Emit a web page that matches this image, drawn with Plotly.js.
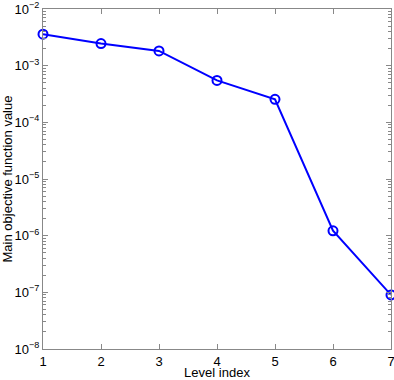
<!DOCTYPE html>
<html><head><meta charset="utf-8">
<script src="https://cdn.plot.ly/plotly-3.0.1.min.js"></script>
<style>html,body{margin:0;padding:0;background:#fff;overflow:hidden;}#chart{width:394px;height:380px;}</style>
</head><body><div id="chart"></div>
<script>
const levels = [1, 2, 3, 4, 5, 6, 7];
const objectiveValues = [3.6e-3, 2.45e-3, 1.82e-3, 5.5e-4, 2.55e-4, 1.22e-6, 9.0e-8];
const yTickVals = [1e-8, 1e-7, 1e-6, 1e-5, 1e-4, 1e-3, 1e-2];
const yTickText = ['10<sup>−8</sup>','10<sup>−7</sup>','10<sup>−6</sup>','10<sup>−5</sup>','10<sup>−4</sup>','10<sup>−3</sup>','10<sup>−2</sup>'];
const xTickVals = [1, 2, 3, 4, 5, 6, 7];
const yMinorVals = [];
for (let e = -8; e < -2; e++) for (let d = 2; d <= 9; d++) yMinorVals.push(d * Math.pow(10, e));

const axisCol = '#888888';
const fnt = {family: 'Liberation Sans, Arial, sans-serif', size: 13, color: '#000'};

Plotly.newPlot('chart', [{
  x: levels, y: objectiveValues, type: 'scatter', mode: 'lines+markers',
  line: {color: '#0000ff', width: 2},
  marker: {symbol: 'circle-open', size: 9, color: '#0000ff', line: {width: 2, color: '#0000ff'}},
  cliponaxis: false
}], {
  width: 394, height: 380,
  margin: {l: 43, r: 3, t: 9, b: 31},
  paper_bgcolor: '#fff', plot_bgcolor: '#fff',
  showlegend: false,
  font: fnt,
  xaxis: {
    range: [1, 7], tickvals: xTickVals, ticks: 'inside', ticklen: 5, tickcolor: axisCol,
    showline: true, linecolor: axisCol, linewidth: 1, mirror: 'ticks', showgrid: false, zeroline: false,
    ticklabeloverflow: 'allow',
    tickfont: {family: fnt.family, size: 13, color: '#000'},
    title: {text: 'Level index', font: {family: fnt.family, size: 13, color: '#000'}, standoff: 6}
  },
  yaxis: {
    type: 'log', range: [-8, -2], tickvals: yTickVals, ticktext: yTickText,
    ticks: 'inside', ticklen: 5, tickcolor: axisCol,
    showline: true, linecolor: axisCol, linewidth: 1, mirror: 'ticks', showgrid: false, zeroline: false,
    ticklabeloverflow: 'allow',
    tickfont: {family: fnt.family, size: 13, color: '#000'},
    minor: {tickvals: yMinorVals, ticks: 'inside', ticklen: 3, tickcolor: axisCol, showgrid: false},
    title: {text: 'Main objective function value', font: {family: fnt.family, size: 13, color: '#000'}, standoff: 4}
  }
}, {displayModeBar: false, staticPlot: true});
</script></body></html>
